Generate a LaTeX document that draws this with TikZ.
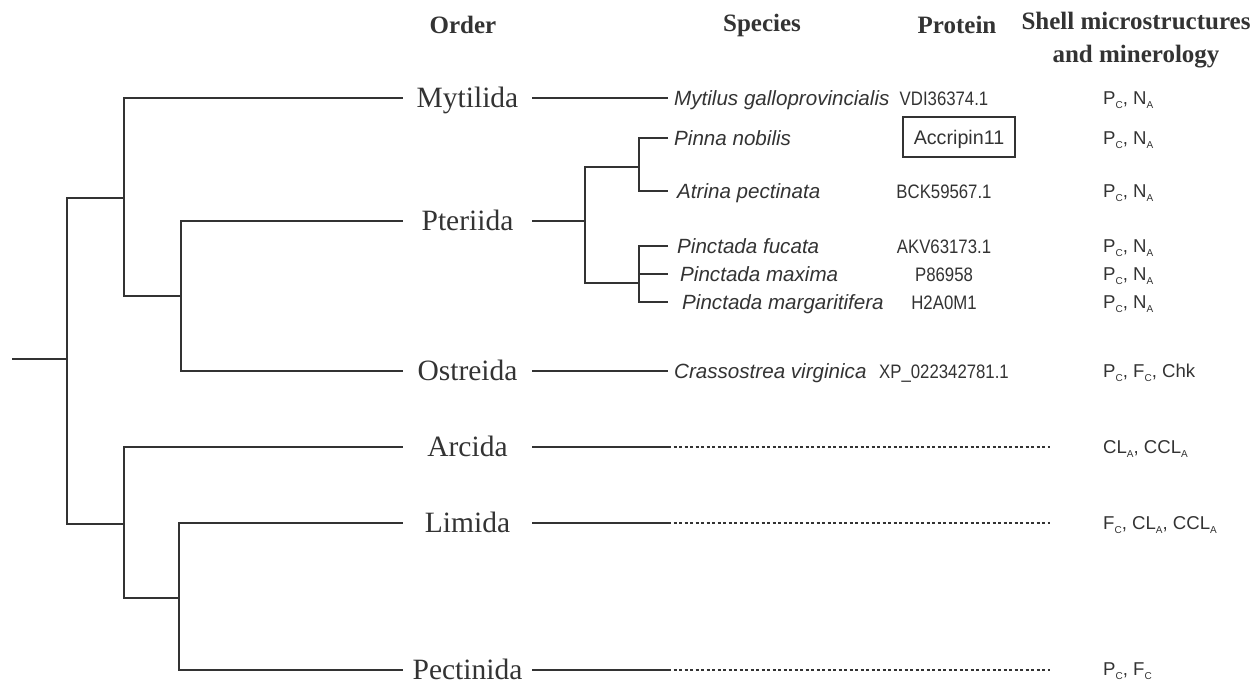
\documentclass[tikz,border=0pt]{standalone}
\usepackage{fontspec}
\setmainfont{Liberation Serif}
\setsansfont{Liberation Sans}
\newfontfamily\narrowsans[FakeStretch=0.86]{Liberation Sans}
\definecolor{ink}{HTML}{333333}
\newcommand{\subidx}[1]{\raisebox{-4pt}{\fontsize{10}{10}\selectfont #1}}

\begin{document}
\begin{tikzpicture}[x=1pt, y=-1pt,
      branch/.style={ink, line width=1.7pt},
      gapline/.style={ink, line width=1.2pt, dash pattern=on 3pt off 2.5pt},
      header/.style={ink, font=\fontsize{25}{33}\selectfont\bfseries},
      order/.style={ink, font=\fontsize{29.5}{30}\selectfont, minimum width=129pt,
                    inner sep=0pt, text height=18pt, text depth=0pt},
      species/.style={ink, anchor=west, font=\sffamily\itshape\fontsize{20.6}{22}\selectfont,
                      inner xsep=6pt, inner ysep=0pt, text height=15pt, text depth=0pt},
      protein/.style={ink, font=\narrowsans\fontsize{19.5}{20}\selectfont,
                      inner sep=0pt, text height=14pt, text depth=0pt},
      accbox/.style={draw=ink, line width=1.6pt, text=ink, font=\sffamily\fontsize{19.7}{20}\selectfont,
                     minimum width=112pt, minimum height=40pt, text height=14pt, text depth=0pt},
      shell/.style={ink, anchor=west, font=\sffamily\fontsize{18.6}{20}\selectfont,
                    inner sep=0pt, text height=13pt, text depth=0pt}
    ]
    \useasboundingbox (0,0) rectangle (1253,686);

    % Column headers
    \node[header] (hord) at (463,25) {Order};
    \node[header] (hspe) at (762,25) {Species};
    \node[header] (hpro) at (957,25) {Protein};
    \node[header, align=center] (hshe) at (1136,40.5) {Shell microstructures\\and minerology};

    % Orders
    \node[order] (myt) at (467.5,98) {Mytilida};
    \node[order] (pte) at (467.5,221) {Pteriida};
    \node[order] (ost) at (467.5,371) {Ostreida};
    \node[order] (arc) at (467.5,447) {Arcida};
    \node[order] (lim) at (467.5,523) {Limida};
    \node[order] (pec) at (467.5,670) {Pectinida};

    % Branch points of the tree
    \coordinate (root) at (12,359);
    \coordinate (n0) at (67,359);
    \coordinate (n1) at (124,198);
    \coordinate (n2) at (181,296);
    \coordinate (n3) at (124,524);
    \coordinate (n4) at (179,598);
    \coordinate (p0) at (585,221);
    \coordinate (p1) at (639,167);
    \coordinate (p2) at (639,283);
    \coordinate (spx) at (668,0);
    \coordinate (dotx) at (1050,0);

    % Order tree
    \draw[branch] (root) -- (n0);
    \draw[branch] (n1) -| (n0) |- (n3);
    \draw[branch] (myt.west) -| (n1) |- (n2);
    \draw[branch] (pte.west) -| (n2) |- (ost.west);
    \draw[branch] (arc.west) -| (n3) |- (n4);
    \draw[branch] (lim.west) -| (n4) |- (pec.west);

    % Species
    \node[species] (mga) at (668,98) {Mytilus galloprovincialis};
    \node[species] (pno) at (668,138) {Pinna nobilis};
    \node[species, inner xsep=9pt] (ape) at (668,191) {Atrina pectinata};
    \node[species, inner xsep=9pt] (pfu) at (668,246) {Pinctada fucata};
    \node[species, inner xsep=12pt] (pma) at (668,274) {Pinctada maxima};
    \node[species, inner xsep=14pt] (pmr) at (668,302) {Pinctada margaritifera};
    \node[species] (cvi) at (668,371) {Crassostrea virginica};

    \draw[branch] (myt.east) -- (mga.west);
    \draw[branch] (ost.east) -- (cvi.west);
    \draw[branch] (pte.east) -- (p0);
    \draw[branch] (p1) -| (p0) |- (p2);
    \draw[branch] (pno.west) -| (p1) |- (ape.west);
    \draw[branch] (pfu.west) -| (p2) |- (pmr.west);
    \draw[branch] (p2 |- pma.west) -- (pma.west);

    % Orders without a sequence
    \foreach \o in {arc,lim,pec} {
      \draw[branch] (\o.east) -- (\o.east -| spx);
      \draw[gapline] (\o.east -| spx) -- (\o.east -| dotx);
    }

    % Proteins
    \node[protein] (rmga) at (944,98) {VDI36374.1};
    \node[accbox] (rpno) at (959,137) {Accripin11};
    \node[protein] (rape) at (944,191) {BCK59567.1};
    \node[protein] (rpfu) at (944,246) {AKV63173.1};
    \node[protein] (rpma) at (944,274) {P86958};
    \node[protein] (rpmr) at (944,302) {H2A0M1};
    \node[protein] (rcvi) at (944,371) {XP\_022342781.1};

    % Shell microstructures
    \node[shell] (smga) at (1103,98) {P\subidx{C}, N\subidx{A}};
    \node[shell] (spno) at (1103,138) {P\subidx{C}, N\subidx{A}};
    \node[shell] (sape) at (1103,191) {P\subidx{C}, N\subidx{A}};
    \node[shell] (spfu) at (1103,246) {P\subidx{C}, N\subidx{A}};
    \node[shell] (spma) at (1103,274) {P\subidx{C}, N\subidx{A}};
    \node[shell] (spmr) at (1103,302) {P\subidx{C}, N\subidx{A}};
    \node[shell] (scvi) at (1103,371) {P\subidx{C}, F\subidx{C}, Chk};
    \node[shell] (sarc) at (1103,447) {CL\subidx{A}, CCL\subidx{A}};
    \node[shell] (slim) at (1103,523) {F\subidx{C}, CL\subidx{A}, CCL\subidx{A}};
    \node[shell] (spec) at (1103,669) {P\subidx{C}, F\subidx{C}};

  \end{tikzpicture}
\end{document}
